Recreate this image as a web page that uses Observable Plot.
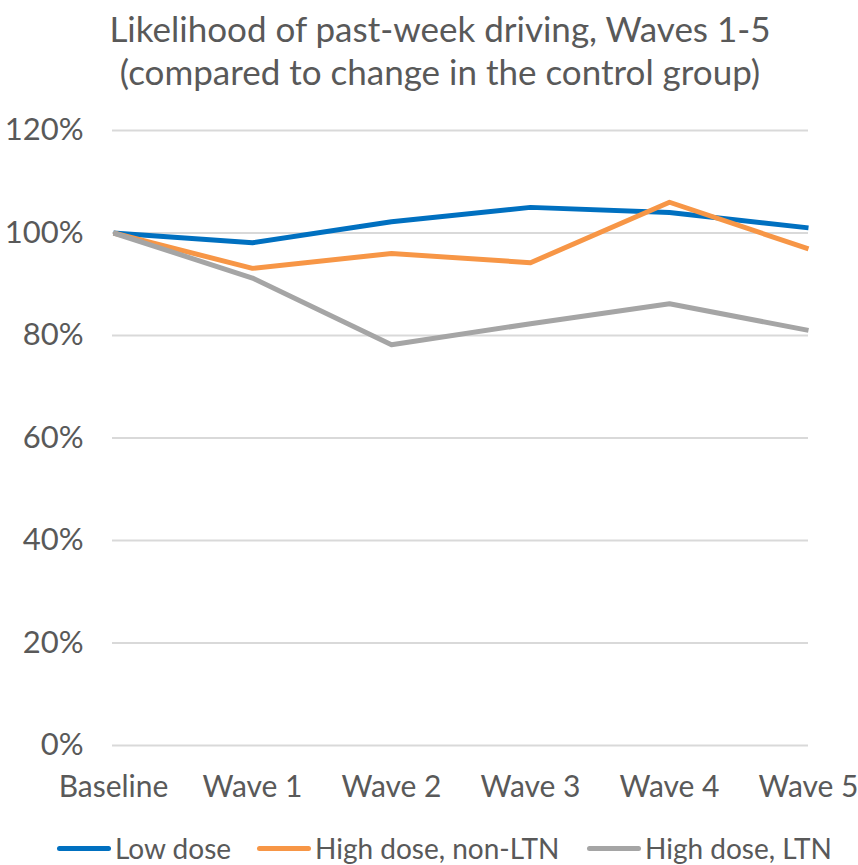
<!DOCTYPE html>
<html><head><meta charset="utf-8">
<script src="https://cdn.jsdelivr.net/npm/d3@7"></script>
<script src="https://cdn.jsdelivr.net/npm/@observablehq/plot@0.6"></script>
<style>
body{margin:0;background:#fff;font-family:Lato,"Open Sans",sans-serif;color:#595959;}
#title{position:absolute;left:0;top:7px;width:880px;text-align:center;font-size:35px;line-height:43px;}
#chart{position:absolute;left:0;top:110px;}
#legend{position:absolute;left:0;top:831px;width:858px;font-size:28px;}
.item{position:absolute;top:0;display:flex;align-items:center;white-space:nowrap;}
.sw{display:inline-block;width:54px;height:5px;border-radius:3px;margin-right:4px;}
</style></head>
<body>
<div id="title">Likelihood of past-week driving, Waves 1-5<br>(compared to change in the control group)</div>
<div id="chart"></div>
<div id="legend"></div>
<script>
const categories = ["Baseline","Wave 1","Wave 2","Wave 3","Wave 4","Wave 5"];
const seriesNames = ["Low dose","High dose, non-LTN","High dose, LTN"];
const lowDose = [100, 98.1, 102.2, 105, 104, 101];
const highNonLTN = [100, 93.1, 96, 94.2, 106, 96.9];
const highLTN = [100, 91.2, 78.2, 82.3, 86.2, 81];
const colors = ["#0070C0","#F79646","#A5A5A5"];
const yTicks = [0,20,40,60,80,100,120];

const data = [];
[lowDose, highNonLTN, highLTN].forEach((arr, si) => {
  arr.forEach((v, i) => data.push({series: seriesNames[si], cat: categories[i], value: v}));
});

const chart = Plot.plot({
  width: 858, height: 690,
  marginLeft: 112, marginRight: 50, marginTop: 20, marginBottom: 55,
  style: {fontFamily: "Lato, 'Open Sans', sans-serif", color: "#595959", background: "#fff", overflow: "visible"},
  x: {type: "point", domain: categories, padding: 0, axis: null},
  y: {domain: [0, 120], axis: null},
  color: {domain: seriesNames, range: colors},
  marks: [
    Plot.ruleY(yTicks, {stroke: "#D9D9D9", strokeWidth: 2}),
    Plot.text(yTicks, {x: () => categories[0], y: d => d, text: d => d + "%", textAnchor: "end", dx: -30, fill: "#595959", fontSize: 31}),
    Plot.text(categories, {x: d => d, y: () => 0, text: d => d, dy: 42, fill: "#595959", fontSize: 30}),
    Plot.line(data, {x: "cat", y: "value", z: "series", stroke: "series", strokeWidth: 5, strokeLinejoin: "round", strokeLinecap: "butt"})
  ]
});
document.getElementById("chart").appendChild(chart);

const legend = document.getElementById("legend");
const lefts = [57, 257, 587];
seriesNames.forEach((n, i) => {
  const d = document.createElement("div");
  d.className = "item";
  d.style.left = lefts[i] + "px";
  d.innerHTML = `<span class="sw" style="background:${colors[i]}"></span><span>${n}</span>`;
  legend.appendChild(d);
});
</script>
</body></html>
